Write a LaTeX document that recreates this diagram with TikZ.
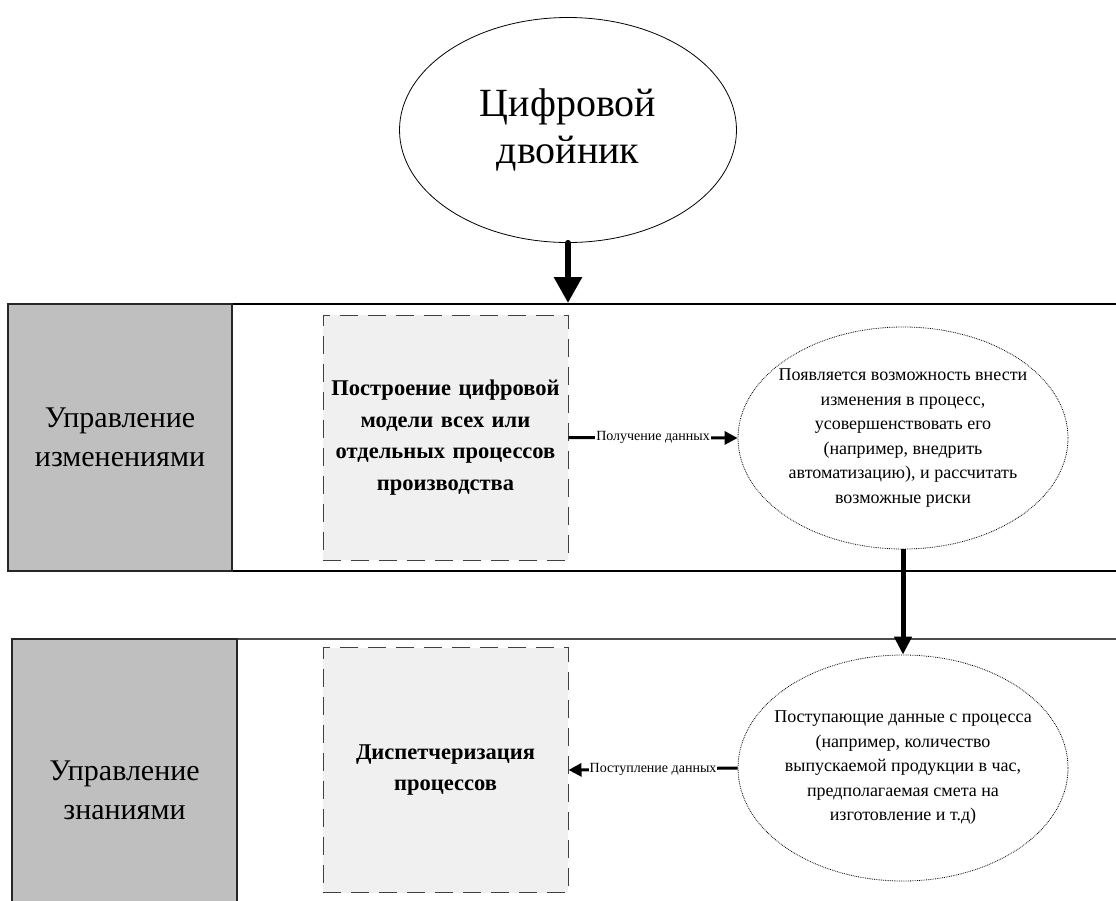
\documentclass[tikz,border=0pt]{standalone}
\usepackage{fontspec}
\setmainfont{Liberation Serif}
\usetikzlibrary{positioning, shapes.geometric, arrows.meta}
\definecolor{ink}{HTML}{000000}
\definecolor{lanegray}{HTML}{BFBFBF}
\definecolor{boxfill}{HTML}{F0F0F0}
\definecolor{boxline}{HTML}{404040}

\begin{document}
\begin{tikzpicture}[x=1pt, y=-1pt,
  hdr/.style={draw=ink!85, line width=1.2pt, fill=lanegray, minimum width=224pt, align=center, inner sep=0pt, font=\fontsize{30}{39}\selectfont},
  proc/.style={draw=boxline, fill=boxfill, line width=1pt, dash pattern=on 18pt off 10pt, minimum width=245pt, minimum height=245pt, text width=244pt, align=center, inner sep=0pt, font=\bfseries\fontsize{22.5}{31.5}\selectfont},
  note/.style={ellipse, draw=ink, densely dotted, line width=0.8pt, minimum width=330pt, align=center, inner xsep=-14pt, inner ysep=0pt, font=\fontsize{18}{24.5}\selectfont},
  big/.style={-{Triangle[length=26pt,width=27pt]}, line width=6pt},
  mid/.style={-{Triangle[length=18pt,width=17pt]}, line width=5pt},
  arr/.style={-{Triangle[length=13pt,width=13pt]}, line width=3pt},
  lbl/.style={fill=white, inner sep=1pt, font=\fontsize{14}{16}\selectfont}
]
  \useasboundingbox (0,0) rectangle (1116,900);

  % lanes
  \draw[ink, line width=1.2pt] (1120,304) -- (8,304) -- (8,571) -- (1120,571);
  \draw[ink!70, line width=1.2pt] (1120,639) -- (12,639) -- (12,910);
  \node[hdr, minimum height=267pt] (hdr1) at (120,437.5) {Управление\\изменениями};
  \node[hdr, minimum height=302pt, minimum width=225pt] (hdr2) at (124.5,790) {Управление\\знаниями};

  \node[ellipse, draw=ink, line width=0.8pt, minimum width=337pt, minimum height=225pt, align=center, inner sep=0pt, font=\fontsize{40}{47}\selectfont] (twin) at (568,130) {\raisebox{-5pt}{\parbox{200pt}{\centering Цифровой\\двойник}}};
  \coordinate (lane1top) at (568,303);

  \node[proc] (model) at (445.5,437.5) {Построение цифровой\\модели всех или\\отдельных процессов\\производства};
  \node[proc] (disp) at (445.5,770) {Диспетчеризация\\процессов};

  \node[note, minimum height=222pt] (change) at (903,438) {Появляется возможность внести\\изменения в процесс,\\усовершенствовать его\\(например, внедрить\\автоматизацию), и рассчитать\\возможные риски};
  \node[note, minimum height=226pt] (data) at (903,768) {Поступающие данные с процесса\\(например, количество\\выпускаемой продукции в час,\\предполагаемая смета на\\изготовление и т.д)};

  \draw[big, line cap=round] (twin.south) -- (lane1top);
  \draw[arr] (model.east) -- node[lbl]{Получение данных} (change.west);
  \draw[mid] (change.south) -- (data.north);
  \draw[arr] (data.west) -- node[lbl]{Поступление данных} (disp.east);
\end{tikzpicture}
\end{document}
